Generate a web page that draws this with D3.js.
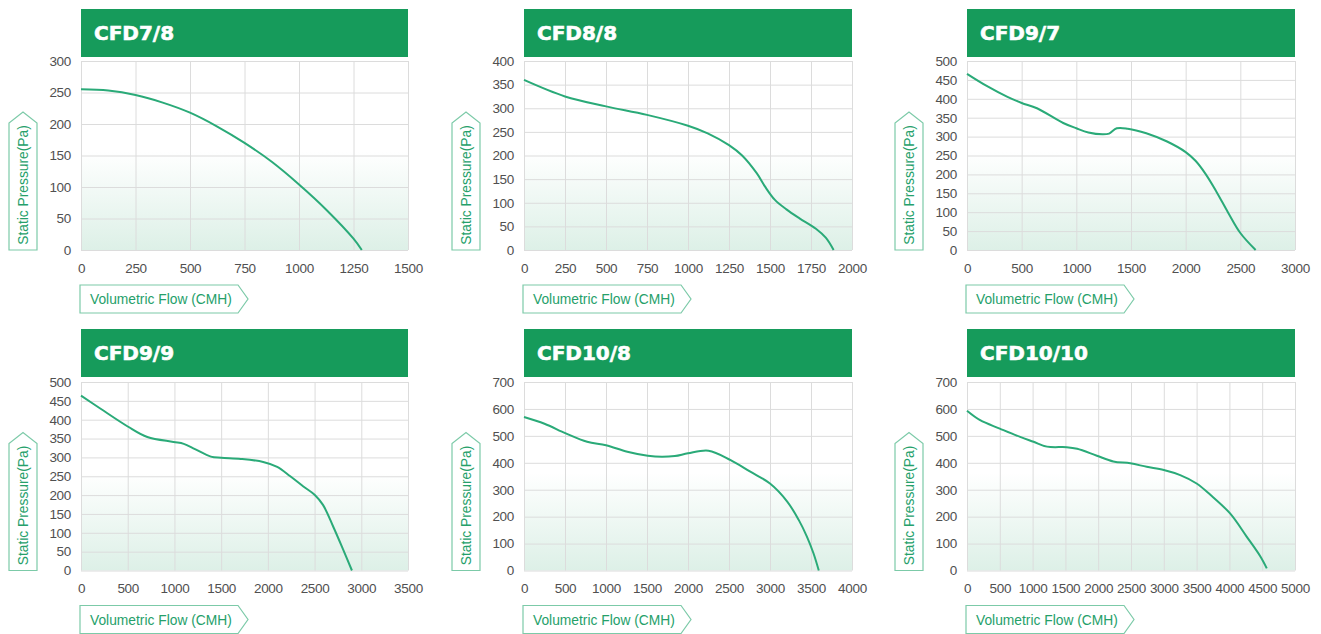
<!DOCTYPE html>
<html>
<head>
<meta charset="utf-8">
<script src="https://cdn.jsdelivr.net/npm/d3@7"></script>
<style>
  html, body { margin: 0; padding: 0; background: #fff; }
  svg { display: block; }
</style>
</head>
<body>
<svg id="chart" width="1321" height="634"></svg>
<script>
// ---------- data ----------
const titles = ["CFD7/8", "CFD8/8", "CFD9/7", "CFD9/9", "CFD10/8", "CFD10/10"];

const xTicks78 = [0, 250, 500, 750, 1000, 1250, 1500];
const xTicks88 = [0, 250, 500, 750, 1000, 1250, 1500, 1750, 2000];
const xTicks97 = [0, 500, 1000, 1500, 2000, 2500, 3000];
const xTicks99 = [0, 500, 1000, 1500, 2000, 2500, 3000, 3500];
const xTicks108 = [0, 500, 1000, 1500, 2000, 2500, 3000, 3500, 4000];
const xTicks1010 = [0, 500, 1000, 1500, 2000, 2500, 3000, 3500, 4000, 4500, 5000];

const yTicks78 = [0, 50, 100, 150, 200, 250, 300];
const yTicks88 = [0, 50, 100, 150, 200, 250, 300, 350, 400];
const yTicks97 = [0, 50, 100, 150, 200, 250, 300, 350, 400, 450, 500];
const yTicks99 = [0, 50, 100, 150, 200, 250, 300, 350, 400, 450, 500];
const yTicks108 = [0, 100, 200, 300, 400, 500, 600, 700];
const yTicks1010 = [0, 100, 200, 300, 400, 500, 600, 700];

const flow78 = [0, 125, 250, 375, 500, 625, 750, 875, 1000, 1125, 1250, 1288];
const pres78 = [255, 253, 246, 234, 218, 196, 170, 140, 104, 64, 18, 0];

const flow88 = [0, 250, 500, 750, 1000, 1120, 1250, 1330, 1420, 1470, 1530, 1600, 1680, 1780, 1840, 1888];
const pres88 = [360, 325, 304, 286, 263, 247, 222, 200, 162, 134, 106, 86, 67, 45, 26, 0];

const flow97 = [0, 180, 370, 500, 640, 880, 1000, 1110, 1240, 1300, 1370, 1470, 1640, 1830, 2000, 2090, 2180, 2280, 2390, 2500, 2640];
const pres97 = [466, 434, 405, 389, 375, 336, 322, 311, 306, 308, 322, 321, 309, 287, 259, 236, 202, 155, 98, 45, 0];

const flow99 = [0, 210, 500, 710, 990, 1100, 1220, 1390, 1500, 1710, 1950, 2100, 2240, 2380, 2500, 2590, 2700, 2805, 2900];
const pres99 = [464, 429, 382, 354, 341, 336, 322, 302, 299, 296, 288, 275, 250, 223, 201, 174, 116, 56, 0];

const flow108 = [0, 250, 510, 770, 1000, 1260, 1510, 1680, 1840, 2000, 2250, 2520, 2760, 3000, 3210, 3350, 3450, 3530, 3595];
const pres108 = [570, 545, 509, 478, 465, 441, 426, 422, 425, 435, 445, 410, 367, 323, 256, 188, 126, 64, 0];

const flow1010 = [0, 200, 500, 810, 1015, 1220, 1520, 1680, 1980, 2230, 2490, 2740, 3000, 3250, 3500, 3710, 4010, 4260, 4470, 4570];
const pres1010 = [593, 558, 527, 496, 478, 460, 458, 452, 426, 405, 398, 385, 373, 354, 323, 281, 212, 127, 53, 8];

const yAxisLabel = "Static Pressure(Pa)";
const xAxisLabel = "Volumetric Flow (CMH)";

// ---------- layout ----------
const panels = [
  { title: titles[0], flow: flow78, pres: pres78, xt: xTicks78, yt: yTicks78 },
  { title: titles[1], flow: flow88, pres: pres88, xt: xTicks88, yt: yTicks88 },
  { title: titles[2], flow: flow97, pres: pres97, xt: xTicks97, yt: yTicks97 },
  { title: titles[3], flow: flow99, pres: pres99, xt: xTicks99, yt: yTicks99 },
  { title: titles[4], flow: flow108, pres: pres108, xt: xTicks108, yt: yTicks108 },
  { title: titles[5], flow: flow1010, pres: pres1010, xt: xTicks1010, yt: yTicks1010 }
];
const colLeft = [81, 524, 967];
const colRight = [408, 852, 1295];
const rowTop = [61, 382];
const rowBottom = [250, 570.5];
const titleTop = [9, 329];

const svg = d3.select("#chart");
const defs = svg.append("defs");
const grad = defs.append("linearGradient").attr("id", "bgGrad")
  .attr("x1", 0).attr("y1", 0).attr("x2", 0).attr("y2", 1);
grad.append("stop").attr("offset", "0%").attr("stop-color", "#ffffff");
grad.append("stop").attr("offset", "48%").attr("stop-color", "#ffffff");
grad.append("stop").attr("offset", "100%").attr("stop-color", "#ddf0e7");

const GREEN = "#169b5b";
const LINE = "#2aaa78";
const LABEL = "#25a06a";
const BOX = "#7ccaa8";
const font = "'Liberation Sans', Arial, Helvetica, sans-serif";

panels.forEach((p, i) => {
  const col = i % 3, row = Math.floor(i / 3);
  const L = colLeft[col], R = colRight[col], T = rowTop[row], B = rowBottom[row];
  const x = d3.scaleLinear().domain([p.xt[0], p.xt[p.xt.length - 1]]).range([L, R]);
  const y = d3.scaleLinear().domain([p.yt[0], p.yt[p.yt.length - 1]]).range([B, T]);
  const g = svg.append("g");

  // title bar
  g.append("rect").attr("x", L).attr("y", titleTop[row]).attr("width", R - L).attr("height", 48)
    .attr("fill", GREEN);
  g.append("text").attr("x", L + 13).attr("y", titleTop[row] + 31)
    .attr("fill", "#fff").attr("stroke", "#fff").attr("stroke-width", 0.6)
    .attr("font-family", "'DejaVu Sans', sans-serif")
    .attr("font-weight", "bold").attr("font-size", 20).text(p.title);

  // background
  g.append("rect").attr("x", L).attr("y", T).attr("width", R - L).attr("height", B - T)
    .attr("fill", "url(#bgGrad)");

  // grid + ticks
  const yAxis = d3.axisLeft(y).tickValues(p.yt).tickSize(-(R - L)).tickPadding(10).tickFormat(d3.format("d"));
  const xAxis = d3.axisBottom(x).tickValues(p.xt).tickSize(-(B - T)).tickPadding(13).tickFormat(d3.format("d"));
  const ya = g.append("g").attr("transform", `translate(${L},0)`).call(yAxis);
  const xa = g.append("g").attr("transform", `translate(0,${B})`).call(xAxis);
  [ya, xa].forEach(a => {
    a.select(".domain").remove();
    a.selectAll(".tick line").attr("stroke", "#dcdcdc").attr("stroke-width", 1);
    a.selectAll(".tick text").attr("fill", "#505050").attr("font-size", 13.5)
      .attr("font-family", font).attr("letter-spacing", "-0.3");
  });

  // curve
  const pts = p.flow.map((f, k) => [f, p.pres[k]]);
  const line = d3.line().x(d => x(d[0])).y(d => y(d[1])).curve(d3.curveCatmullRom.alpha(0.5));
  g.append("path").attr("d", line(pts)).attr("fill", "none")
    .attr("stroke", LINE).attr("stroke-width", 2);

  // y label arrow box
  const bx0 = L - 72, bx1 = L - 44, bxm = (bx0 + bx1) / 2;
  const ybShoulder = B - 127, ybTip = B - 138;
  g.append("path")
    .attr("d", `M${bx0},${B} L${bx0},${ybShoulder} L${bxm},${ybTip} L${bx1},${ybShoulder} L${bx1},${B} Z`)
    .attr("fill", "#fff").attr("stroke", BOX).attr("stroke-width", 1.2);
  g.append("text").attr("transform", `translate(${bxm + 4.5},${B - 65}) rotate(-90)`)
    .attr("text-anchor", "middle").attr("fill", LABEL).attr("font-size", 13.8)
    .attr("font-family", font).text(yAxisLabel);

  // x label arrow box
  const xb0 = L - 1, xb1 = L + 157, xtip = L + 167, yb0 = B + 35, yb1 = B + 63;
  g.append("path")
    .attr("d", `M${xb0},${yb0} L${xb1},${yb0} L${xtip},${(yb0 + yb1) / 2} L${xb1},${yb1} L${xb0},${yb1} Z`)
    .attr("fill", "#fff").attr("stroke", BOX).attr("stroke-width", 1.2);
  g.append("text").attr("x", L + 9).attr("y", (yb0 + yb1) / 2 + 5)
    .attr("fill", LABEL).attr("font-size", 13.8).attr("font-family", font).text(xAxisLabel);
});
</script>
</body>
</html>
